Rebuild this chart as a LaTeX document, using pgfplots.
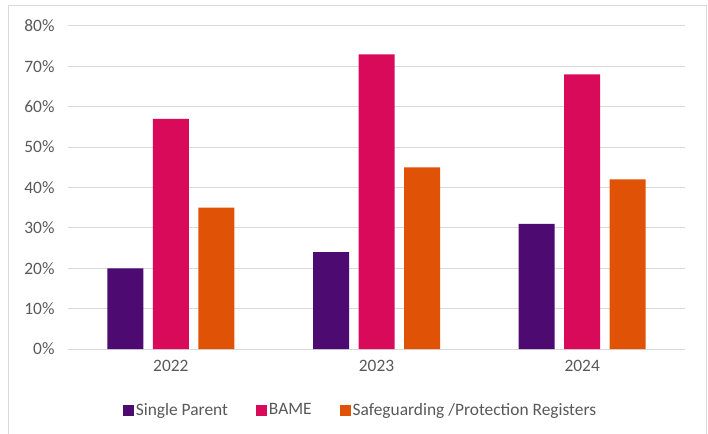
\documentclass[border=0pt]{standalone}
\usepackage{pgfplots}
\pgfplotsset{compat=1.18}
\usepackage{fontspec}
\setmainfont{Carlito}
\definecolor{sp}{HTML}{4D0A70}
\definecolor{bame}{HTML}{D90A5A}
\definecolor{sg}{HTML}{E05206}
\definecolor{txt}{HTML}{595959}
\definecolor{grd}{HTML}{D9D9D9}
\begin{document}
\begin{tikzpicture}
\path[use as bounding box] (-68pt,-84pt) rectangle (640pt,349pt);
\draw[grd, line width=1pt] (-59pt,-90pt) -- (-59pt,343pt) -- (638pt,343pt) -- (638pt,-90pt);
\begin{axis}[
  at={(0,0)}, anchor=south west,
  scale only axis, width=617pt, height=323pt,
  ybar=9.5pt, bar width=36pt,
  xmin=-0.5, xmax=2.5, ymin=0, ymax=80,
  xtick=data, xticklabels={2022,2023,2024},
  ytick={0,10,...,80},
  yticklabel={\pgfmathprintnumber{\tick}\%},
  axis line style={draw=none},
  major tick length=0pt,
  ymajorgrids, grid style={grd, line width=1pt},
  ticklabel style={font=\fontsize{17.4}{20}\selectfont, text=txt},
  /pgf/number format/assume math mode=true,
  yticklabel style={xshift=-10pt},
  xticklabel style={yshift=-8pt},
  legend style={at={(0.474,-0.189)}, anchor=center, draw=none,
    font=\fontsize{17.4}{20}\selectfont, text=txt, inner sep=0pt,
    nodes={inner sep=1.5pt}},
  legend columns=-1,
  legend cell align=left,
  legend image code/.code={\fill[#1,draw=none] (0pt,-5.5pt) rectangle (11pt,5.5pt);},
  /tikz/every odd column/.append style={column sep=0pt},
  /tikz/every even column/.append style={column sep=27pt},
]
\addplot[fill=sp, draw=none] coordinates {(0,20) (1,24) (2,31)};
\addplot[fill=bame, draw=none] coordinates {(0,57) (1,73) (2,68)};
\addplot[fill=sg, draw=none] coordinates {(0,35) (1,45) (2,42)};
\legend{Single Parent, BAME, Safeguarding /Protection Registers}
\end{axis}
\end{tikzpicture}
\end{document}
